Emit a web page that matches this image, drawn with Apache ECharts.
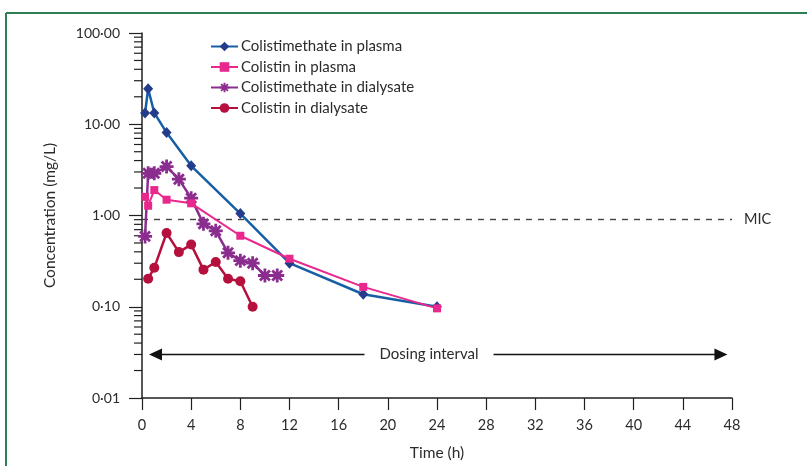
<!DOCTYPE html>
<html><head><meta charset="utf-8">
<script src="https://cdn.jsdelivr.net/npm/echarts@6/dist/echarts.min.js"></script>
<style>html,body{margin:0;padding:0;background:#fff}#c{width:807px;height:466px}</style>
</head><body><div id="c"></div>
<script>
// ---- data ----
const xTicks = [0,4,8,12,16,20,24,28,32,36,40,44,48];
const yTickLabels = ['0·01','0·10','1·00','10·00','100·00'];
const cmsPlasmaTime = [0.25,0.5,1,2,4,8,12,18,24];
const cmsPlasmaConc = [13.3,24.5,13.3,8.1,3.5,1.05,0.30,0.137,0.10];
const colPlasmaTime = [0.25,0.5,1,2,4,8,12,18,24];
const colPlasmaConc = [1.6,1.28,1.9,1.49,1.36,0.60,0.336,0.165,0.096];
const cmsDialTime = [0.25,0.5,1,2,3,4,5,6,7,8,9,10,11];
const cmsDialConc = [0.59,2.9,2.9,3.44,2.5,1.55,0.81,0.68,0.39,0.32,0.30,0.22,0.22];
const colDialTime = [0.5,1,2,3,4,5,6,7,8,9];
const colDialConc = [0.203,0.267,0.643,0.397,0.48,0.255,0.309,0.203,0.19,0.10];
const seriesNames = ['Colistimethate in plasma','Colistin in plasma','Colistimethate in dialysate','Colistin in dialysate'];
const MIC = 0.9;
const dosingLevel = 0.03;
const dosingStart = 1.1, dosingTextStart = 18.1, dosingTextEnd = 28.6, dosingEnd = 47.1;

// ---- helpers ----
const zip = (t, v) => t.map((x, i) => [x, v[i]]);
const minorVals = [];
[0.01,0.1,1,10].forEach(d => { for (let k = 2; k <= 9; k++) minorVals.push(+(k*d).toPrecision(3)); });

// asterisk symbol path (4 crossed bars)
function asteriskPath() {
  let p = '';
  [0,45,90,135].forEach(a => {
    const r = a*Math.PI/180, ux = Math.cos(r), uy = Math.sin(r), vx = -uy*0.2, vy = ux*0.2;
    const pts = [[ux+vx,uy+vy],[ux-vx,uy-vy],[-ux-vx,-uy-vy],[-ux+vx,-uy+vy]];
    p += 'M' + pts.map(q => (q[0]*10+10).toFixed(2)+' '+(q[1]*10+10).toFixed(2)).join(' L') + ' Z ';
  });
  return 'path://' + p;
}

const FONT = 'Lato';
const TXT = '#2b2b2b';
const AX = '#231f20';
const frame = [
  {type: 'line', shape: {x1: 6, y1: 13, x2: 807, y2: 13}, style: {stroke: '#2f7d52', lineWidth: 2}},
  {type: 'line', shape: {x1: 6, y1: 13, x2: 6, y2: 466}, style: {stroke: '#2f7d52', lineWidth: 2}}
];

const chart = echarts.init(document.getElementById('c'), null, {renderer:'canvas'});
chart.setOption({
  animation: false,
  textStyle: {fontFamily: FONT},
  grid: {left: 142, top: 33, right: 75, bottom: 66, containLabel: false},
  legend: {
    data: seriesNames, orient: 'vertical', left: 205, top: 34,
    itemWidth: 27, itemHeight: 12, itemGap: 5.5,
    textStyle: {fontFamily: FONT, fontSize: 15, color: TXT, padding: [0,0,0,-2]},
    selectedMode: false
  },
  xAxis: {
    type: 'value', min: 0, max: 48, interval: 4,
    name: 'Time (h)', nameLocation: 'middle', nameGap: 47,
    nameTextStyle: {fontFamily: FONT, fontSize: 15.5, color: TXT},
    axisLine: {lineStyle: {color: AX, width: 1.5}},
    axisTick: {inside: false, length: 12, lineStyle: {color: AX, width: 1.2}},
    axisLabel: {margin: 20, fontFamily: FONT, fontSize: 14.5, color: TXT,
      formatter: v => xTicks.includes(v) ? String(v) : ''},
    splitLine: {show: false}
  },
  yAxis: {
    type: 'log', logBase: 10, min: 0.01, max: 100,
    name: 'Concentration (mg/L)', nameLocation: 'middle', nameGap: 84,
    nameTextStyle: {fontFamily: FONT, fontSize: 15.5, color: TXT},
    axisLine: {show: true, lineStyle: {color: AX, width: 1.5}},
    axisTick: {show: true, inside: false, length: 13, lineStyle: {color: AX, width: 1.2}},
    axisLabel: {margin: 22, fontFamily: FONT, fontSize: 14, color: TXT,
      formatter: v => { const i = Math.round(Math.log10(v)) + 2; return yTickLabels[i] || ''; }},
    splitLine: {show: false}
  },
  graphic: frame,
  series: [
    {
      name: 'minor', type: 'custom', silent: true, clip: false, z: 1,
      data: minorVals.map(v => [0, v]),
      renderItem: (params, api) => {
        const p = api.coord([0, api.value(1)]);
        return {type: 'line', shape: {x1: p[0]-8, y1: p[1], x2: p[0], y2: p[1]},
          style: {stroke: AX, lineWidth: 1.2}};
      }
    },
    {
      name: seriesNames[3], type: 'line', z: 3, data: zip(colDialTime, colDialConc),
      symbol: 'circle', symbolSize: 10,
      lineStyle: {color: '#b5103e', width: 2.5}, itemStyle: {color: '#b5103e'},
      markLine: {
        silent: true, z: 1,
        data: [
          [{coord: [dosingStart, dosingLevel], symbol: 'triangle', symbolSize: [12, 13]},
           {coord: [dosingTextStart, dosingLevel], symbol: 'none'}],
          [{coord: [dosingTextEnd, dosingLevel], symbol: 'none'},
           {coord: [dosingEnd, dosingLevel], symbol: 'triangle', symbolSize: [12, 13]}]
        ],
        lineStyle: {color: '#111', width: 1.3, type: 'solid'},
        label: {show: false}
      }
    },
    {
      name: seriesNames[2], type: 'line', z: 4, data: zip(cmsDialTime, cmsDialConc),
      symbol: asteriskPath(), symbolSize: 14,
      lineStyle: {color: '#8b2d8f', width: 2.5}, itemStyle: {color: '#8b2d8f'}
    },
    {
      name: seriesNames[0], type: 'line', z: 5, data: zip(cmsPlasmaTime, cmsPlasmaConc),
      symbol: 'diamond', symbolSize: [10, 11],
      lineStyle: {color: '#175fa5', width: 2.5}, itemStyle: {color: '#233d8c'},
      markLine: {
        silent: true, symbol: 'none', z: 1,
        data: [{yAxis: MIC}],
        lineStyle: {color: '#444', width: 1.4, type: [6, 6]},
        label: {show: true, position: 'end', distance: 12, formatter: 'MIC',
          fontFamily: FONT, fontSize: 14.5, color: TXT}
      }
    },
    {
      name: seriesNames[1], type: 'line', z: 6, data: zip(colPlasmaTime, colPlasmaConc),
      symbol: 'rect', symbolSize: 8,
      lineStyle: {color: '#e8288c', width: 2}, itemStyle: {color: '#e8288c'}
    }
  ]
});
// text-only annotation positioned from the axis scale
const tp = chart.convertToPixel({gridIndex: 0}, [(dosingTextStart + dosingTextEnd) / 2, dosingLevel]);
chart.setOption({graphic: frame.concat([
  {type: 'text', x: tp[0], y: tp[1], style: {text: 'Dosing interval', fontFamily: FONT, fontSize: 15,
    fill: TXT, align: 'center', verticalAlign: 'middle'}}
])});
</script></body></html>
